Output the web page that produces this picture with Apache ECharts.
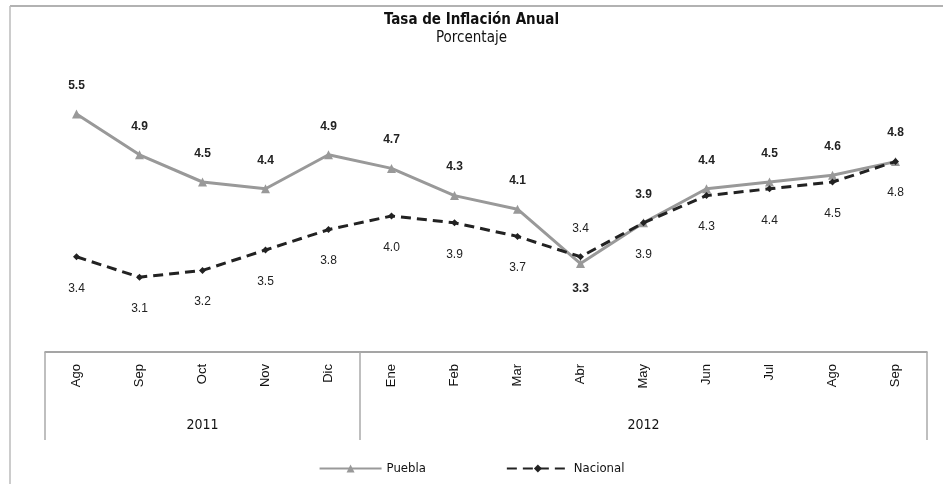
<!DOCTYPE html>
<html>
<head>
<meta charset="utf-8">
<script src="https://cdn.jsdelivr.net/npm/echarts@6/dist/echarts.min.js"></script>
<style>
  html, body { margin: 0; padding: 0; background: #fff; }
  #chart { width: 943px; height: 484px; }
</style>
</head>
<body>
<div id="chart"></div>
<script>
var meses = ['Ago','Sep','Oct','Nov','Dic','Ene','Feb','Mar','Abr','May','Jun','Jul','Ago','Sep'];
var anios = ['','','2011','','','','','','','2012','','','',''];
var puebla = [5.5,4.9,4.5,4.4,4.9,4.7,4.3,4.1,3.3,3.9,4.4,4.5,4.6,4.8];
var nacional = [3.4,3.1,3.2,3.5,3.8,4.0,3.9,3.7,3.4,3.9,4.3,4.4,4.5,4.8];
// mes donde las etiquetas se invierten (Abr)
var cruce = 8;

var chart = echarts.init(document.getElementById('chart'));

var narrow = '"DejaVu Sans Condensed", "Liberation Sans Narrow", "Liberation Sans", sans-serif';
var sans = '"Liberation Sans", Arial, sans-serif';

var option = {
    backgroundColor:'#fff',
    animation:false,
    title:{
        text:'Tasa de Inflación Anual',
        subtext:'Porcentaje',
        left:'center',
        top:8,
        itemGap:3,
        textStyle:{fontFamily:narrow, fontSize:15, fontWeight:'bold', color:'#111'},
        subtextStyle:{fontFamily:narrow, fontSize:15, color:'#111'}
    },
    legend:{
        bottom:4,
        left:'center',
        itemWidth:62,
        itemHeight:10,
        itemGap:80,
        textStyle:{fontFamily:narrow, fontSize:13, color:'#111'},
        data:['Puebla','Nacional']
    },
    grid:{left:45, right:16, top:80, bottom:132},
    xAxis:[{
        type:'category',
        data:meses,
        boundaryGap:true,
        axisLine:{lineStyle:{color:'#888', width:1.5}},
        axisTick:{show:false},
        axisLabel:{rotate:90, margin:12, fontFamily:sans, fontSize:13, color:'#111'}
    },{
        type:'category',
        data:anios,
        position:'bottom',
        boundaryGap:true,
        axisLine:{show:false},
        axisTick:{
            show:true,
            length:88,
            interval:function(i){ return i === 0 || i === 5 || i === 14; },
            lineStyle:{color:'#aaa', width:1.5}
        },
        axisLabel:{interval:0, margin:66, fontFamily:narrow, fontSize:14, color:'#111'}
    }],
    yAxis:{type:'value', min:2, max:6, show:false},
    graphic:[
        {type:'line', shape:{x1:10, y1:6, x2:943, y2:6}, style:{stroke:'#999', lineWidth:1.5}},
        {type:'line', shape:{x1:10, y1:6, x2:10, y2:484}, style:{stroke:'#bbb', lineWidth:1.5}}
    ],
    series:[{
        name:'Puebla',
        type:'line',
        data:puebla,
        symbol:'triangle',
        symbolSize:9,
        lineStyle:{color:'#999', width:3},
        itemStyle:{color:'#999'},
        label:{
            show:true,
            position:'top',
            distance:18,
            formatter:function(p){ return p.value.toFixed(1); },
            fontFamily:sans, fontSize:12, fontWeight:'bold', color:'#222'
        },
        labelLayout:function(p){
            if (p.dataIndex === cruce) return {dy:54};
            return {};
        },
        z:2
    },{
        name:'Nacional',
        type:'line',
        data:nacional,
        symbol:'diamond',
        symbolSize:7,
        lineStyle:{color:'#222', width:3, type:[10,6]},
        itemStyle:{color:'#222'},
        label:{
            show:true,
            position:'bottom',
            distance:22,
            formatter:function(p){ return p.value.toFixed(1); },
            fontFamily:sans, fontSize:12, color:'#222'
        },
        labelLayout:function(p){
            if (p.dataIndex === cruce) return {dy:-60};
            return {};
        },
        z:3
    }]
};
chart.setOption(option);
</script>
</body>
</html>
